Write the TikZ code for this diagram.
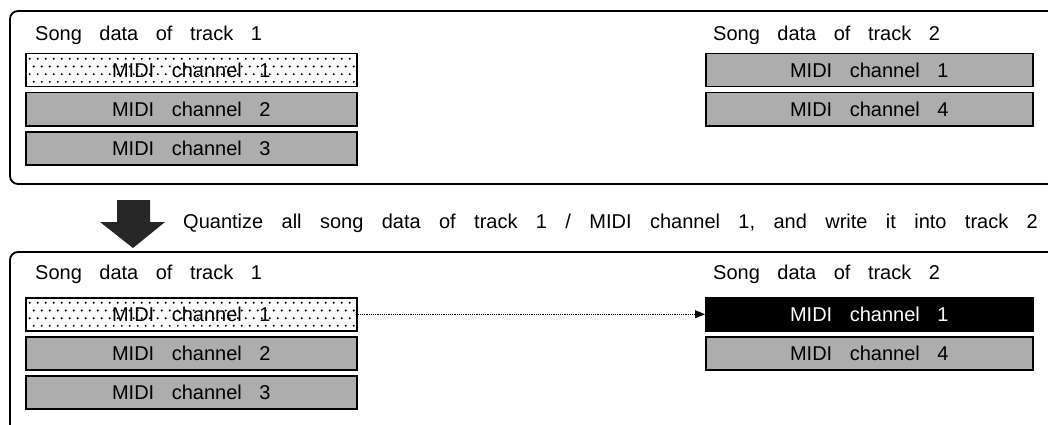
\documentclass[tikz,border=0pt]{standalone}
\usepackage{fontspec}
\newfontfamily\lab{Liberation Sans}
\usetikzlibrary{arrows.meta,calc}
\definecolor{halftone}{gray}{0.68}
\newcommand\labfont{\lab\fontsize{20}{22}\selectfont\spaceskip=17.5pt plus 1pt minus 1pt\relax}
\newcommand\labqfont{\lab\fontsize{20}{22}\selectfont\spaceskip=18.4pt plus 1pt minus 1pt\relax}
\begin{document}
\begin{tikzpicture}[x=1pt,y=-1pt,
  txt/.style={font=\labfont, inner sep=0pt},
  txtq/.style={font=\labqfont, inner sep=0pt},
  bar/.style={draw, line width=1.5pt, minimum height=33pt, inner sep=0pt, fill=halftone,
    font=\labfont},
  lbar/.style={bar, minimum width=331pt},
  rbar/.style={bar, minimum width=327pt},
  dotbar/.style={fill=white, path picture={
    \foreach \i in {0,...,41} \foreach \j in {0,...,3} {
      \fill[black] ($(path picture bounding box.north west)+({4+\i*8+mod(\j,2)*4},{5+\j*7.7})$) circle (1.1pt);
    }}},
  blackbar/.style={fill=black, text=white},
  frame/.style={line width=1.8pt, rounded corners=8pt},
  flow/.style={line width=1.2pt, dash pattern=on 1.2pt off 1pt, -{Triangle[length=10pt,width=8pt]}},
]
\useasboundingbox (0,0) rectangle (1048,425);
\fill[white] (0,0) rectangle (1048,425);

% frames
\draw[frame] (1070,11) -- (10,11) -- (10,184) -- (1070,184);
\draw[frame] (1070,252) -- (10,252) -- (10,450);

% top section
\node[txt, anchor=base west] (t1) at (35,41) {Song data of track 1};
\node[txt, anchor=base west] (t2) at (713,41) {Song data of track 2};
\node[lbar, dotbar, anchor=north west] (a1) at (25,53) {MIDI channel 1};
\node[lbar, anchor=north west] (a2) at (25,92) {MIDI channel 2};
\node[lbar, anchor=north west] (a3) at (25,131) {MIDI channel 3};
\node[rbar, anchor=north west] (b1) at (705,53) {MIDI channel 1};
\node[rbar, anchor=north west] (b4) at (705,92) {MIDI channel 4};

% big arrow and instruction
\fill[black!85] (117,200) -- (150,200) -- (150,222) -- (165,222) -- (133,248) -- (100,222) -- (117,222) -- cycle;
\node[txtq, anchor=base west] (q) at (183,228) {Quantize all song data of track 1 / MIDI channel 1, and write it into track 2};

% bottom section
\node[txt, anchor=base west] (t3) at (35,279) {Song data of track 1};
\node[txt, anchor=base west] (t4) at (713,279) {Song data of track 2};
\node[lbar, dotbar, anchor=north west] (c1) at (25,297) {MIDI channel 1};
\node[lbar, anchor=north west] (c2) at (25,336) {MIDI channel 2};
\node[lbar, anchor=north west] (c3) at (25,375) {MIDI channel 3};
\node[rbar, blackbar, anchor=north west] (d1) at (705,297) {MIDI channel 1};
\node[rbar, anchor=north west] (d4) at (705,336) {MIDI channel 4};

\draw[flow] (c1.east) -- (d1.west);
\end{tikzpicture}
\end{document}
